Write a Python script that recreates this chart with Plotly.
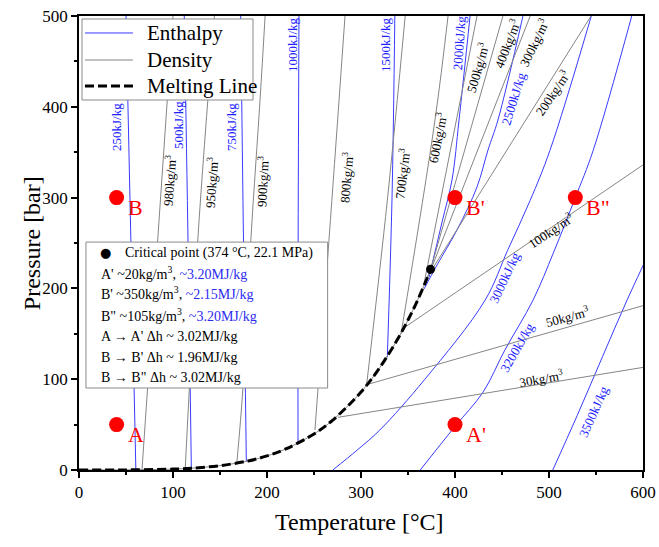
import plotly.graph_objects as go

# ---------------- data ----------------
# Saturation curve, drawn as "Melting Line"
SAT_T = [0, 50, 100, 120, 150, 180, 200, 220, 250, 270, 300, 320, 340, 350, 360, 370, 374]
SAT_P = [0.006, 0.12, 1.0, 2.0, 4.8, 10.0, 15.5, 23.2, 39.7, 55.0, 85.8, 112.8, 146.0, 165.2, 186.5, 210.4, 220.6]

# Enthalpy isolines (kJ/kg): temperature [°C] / pressure [bar]
H250_T = [50, 60.5];                 H250_P = [500, 0]
H500_T = [112, 116, 119.5];          H500_P = [500, 250, 2]
H750_T = [172, 175, 178];            H750_P = [500, 250, 9.5]
H1000_T = [234, 233, 233];           H1000_P = [500, 200, 29]
H1500_T = [336, 333, 328];           H1500_P = [500, 300, 124]
H2000_T = [416, 404.3, 396.8, 386.2, 372.3]
H2000_P = [500, 385.5, 319.4, 273, 212]
H2500_T = [472.3, 445.7, 435.1, 423.4, 402.1, 380.9, 367]
H2500_P = [500, 385.5, 352.4, 311.7, 264.3, 225.8, 199.3]
H3000_T = [270, 296, 320, 368, 432, 456, 480, 501, 545]
H3000_P = [0, 22, 44, 100, 187, 242, 297, 352, 500]
H3200_T = [363, 400, 430, 453, 483, 505, 528, 547, 588]
H3200_P = [0, 48, 86, 132, 187, 240, 300, 352, 500]
H3500_T = [504, 530, 557, 583, 610]
H3500_P = [0, 60, 125, 187, 247]

# Density isolines (kg/m3)
D980_T = [100, 67];                  D980_P = [500, 0]
D950_T = [144, 126.6, 113];          D950_P = [500, 257, 1.5]
D900_T = [198, 192.6, 183, 174.5, 168]
D900_P = [500, 407.5, 256.6, 91.4, 8.8]
D800_T = [283, 269, 251];            D800_P = [500, 297, 44]
D700_T = [347, 328, 306];            D700_P = [500, 297, 94]
D600_T = [392.6, 378.7, 342.6];      D600_P = [500, 385.5, 150]
D500_T = [423.4, 367];               D500_P = [500, 205]
D400_T = [451, 372.3];               D400_P = [500, 214.5]
D300_T = [480, 374.5];               D300_P = [500, 221]
D200_T = [544.7, 369];               D200_P = [500, 210]
D100_T = [347, 600];                 D100_P = [157.5, 336]
D50_T = [306, 600];                  D50_P = [94, 181]
D30_T = [275.5, 600];                D30_P = [58, 113]

# Isoline labels: text, position (T, P), text angle
H_LABELS = ["250kJ/kg", "500kJ/kg", "750kJ/kg", "1000kJ/kg", "1500kJ/kg", "2000kJ/kg",
            "2500kJ/kg", "3000kJ/kg", "3200kJ/kg", "3500kJ/kg"]
H_LAB_T = [40.4, 106.4, 162.8, 226.6, 325.5, 404.3, 462.8, 453.2, 467, 547.9]
H_LAB_P = [377.8, 380, 377.8, 468, 469, 470, 408.6, 211.5, 135.5, 63.9]
H_LAB_ANG = [-90, -90, -90, -90, -90, -86, -73, -65, -60, -66]

D_LABELS = ["980", "950", "900", "800", "700", "600", "500", "400", "300", "200", "100", "50", "30"]
D_LAB_T = [95.7, 140.4, 194.7, 284, 343.6, 380.9, 423.4, 455.3, 484, 503.2, 502.1, 520.2, 491.5]
D_LAB_P = [319.4, 317.2, 317.2, 322.7, 327, 365.6, 442.7, 470.3, 471.4, 415.2, 264.3, 169.6, 101.3]
D_LAB_ANG = [-86, -86, -87, -85, -83, -79, -74, -69, -64, -56, -34, -15, -10]

# State points
PT_NAMES = ["A", "A'", "B", "B'", 'B"']
PT_T = [40, 400, 40, 400, 528]
PT_P = [50, 50, 300, 300, 300]
CRIT_T = [374]
CRIT_P = [221]

# Legend entries
LEG_NAMES = ["Enthalpy", "Density", "Melting Line"]

# Info box lines
INFO_LINES = [
    "A' ~20kg/m<sup>3</sup>, <span style='color:#2b2bf0'>~3.20MJ/kg</span>",
    "B' ~350kg/m<sup>3</sup>, <span style='color:#2b2bf0'>~2.15MJ/kg</span>",
    "B\" ~105kg/m<sup>3</sup>, <span style='color:#2b2bf0'>~3.20MJ/kg</span>",
    "A \u2192 A' \u0394h ~ 3.02MJ/kg",
    "B \u2192 B' \u0394h ~ 1.96MJ/kg",
    "B \u2192 B\" \u0394h ~ 3.02MJ/kg",
]

# ---------------- figure ----------------
FONT = "Liberation Serif, Times New Roman, serif"
BLUE = "#3a3aff"
GRAY = "#858585"

fig = go.Figure()

enthalpy = [(H250_T, H250_P), (H500_T, H500_P), (H750_T, H750_P), (H1000_T, H1000_P),
            (H1500_T, H1500_P), (H2000_T, H2000_P), (H2500_T, H2500_P), (H3000_T, H3000_P),
            (H3200_T, H3200_P), (H3500_T, H3500_P)]
density = [(D980_T, D980_P), (D950_T, D950_P), (D900_T, D900_P), (D800_T, D800_P),
           (D700_T, D700_P), (D600_T, D600_P), (D500_T, D500_P), (D400_T, D400_P),
           (D300_T, D300_P), (D200_T, D200_P), (D100_T, D100_P), (D50_T, D50_P), (D30_T, D30_P)]

for i, (t, p) in enumerate(enthalpy):
    fig.add_trace(go.Scatter(x=t, y=p, mode="lines", line=dict(color=BLUE, width=1),
                             name="Enthalpy", showlegend=False,
                             line_shape="spline", hoverinfo="skip"))
for i, (t, p) in enumerate(density):
    fig.add_trace(go.Scatter(x=t, y=p, mode="lines", line=dict(color=GRAY, width=1),
                             name="Density", showlegend=False,
                             line_shape="spline", hoverinfo="skip"))

# thin gray saturation line under the dashes
fig.add_trace(go.Scatter(x=SAT_T, y=SAT_P, mode="lines", line=dict(color=GRAY, width=1),
                         showlegend=False, line_shape="spline", hoverinfo="skip"))
fig.add_trace(go.Scatter(x=SAT_T, y=SAT_P, mode="lines",
                         line=dict(color="black", width=3, dash="9px,4px"),
                         name="Melting Line", showlegend=False, line_shape="spline",
                         hoverinfo="skip"))

# state points
fig.add_trace(go.Scatter(x=PT_T, y=PT_P, mode="markers",
                         marker=dict(color="#ff0000", size=15, line=dict(width=0)),
                         showlegend=False, hoverinfo="skip"))
fig.add_trace(go.Scatter(x=CRIT_T, y=CRIT_P, mode="markers",
                         marker=dict(color="black", size=9), showlegend=False, hoverinfo="skip"))

ann = []
for name, t, p in zip(PT_NAMES, PT_T, PT_P):
    ann.append(dict(x=t, y=p, text=name, showarrow=False, xanchor="left", yanchor="middle",
                    xshift=9, yshift=-10, font=dict(family=FONT, size=22, color="#ff0000")))
for txt, t, p, a in zip(H_LABELS, H_LAB_T, H_LAB_P, H_LAB_ANG):
    ann.append(dict(x=t, y=p, text=txt, showarrow=False, textangle=a,
                    font=dict(family=FONT, size=13, color="#2020ff")))
for txt, t, p, a in zip(D_LABELS, D_LAB_T, D_LAB_P, D_LAB_ANG):
    ann.append(dict(x=t, y=p, text=txt + "kg/m<sup>3</sup>", showarrow=False, textangle=a,
                    font=dict(family=FONT, size=13, color="black")))

# info box
INFO_Y = [217, 195, 170.7, 146.5, 124.4, 102.4]
ann.append(dict(x=27.7, y=239, text="\u25cf", showarrow=False, xanchor="center", yanchor="middle",
                font=dict(family="DejaVu Sans", size=13, color="black")))
ann.append(dict(x=46.8, y=239, text="Critical point (374 \u00b0C, 22.1 MPa)", showarrow=False,
                xanchor="left", yanchor="middle", font=dict(family=FONT, size=14, color="black")))
for txt, y in zip(INFO_LINES, INFO_Y):
    ann.append(dict(x=21.3, y=y, text=txt, showarrow=False, xanchor="left", yanchor="middle",
                    font=dict(family=FONT, size=14, color="black")))

# axis titles
ann.append(dict(x=-0.083, y=0.5, xref="paper", yref="paper", text="Pressure [bar]",
                showarrow=False, textangle=-90, xanchor="center", yanchor="middle",
                font=dict(family=FONT, size=24, color="black")))
ann.append(dict(x=0.498, y=-0.114, xref="paper", yref="paper", text="Temperature [\u00b0C]",
                showarrow=False, xanchor="center", yanchor="middle",
                font=dict(family=FONT, size=24, color="black")))

fig.add_shape(type="rect", x0=7.4, x1=264.5, y0=90.3, y1=251, xref="x", yref="y",
              line=dict(color="#8a8a8a", width=1), fillcolor="white", layer="above")

# custom legend (box, line samples, texts) in paper coordinates
LEG_Y = [0.9626, 0.9031, 0.8458]
LEG_STYLE = [dict(color=BLUE, width=1), dict(color=GRAY, width=1),
             dict(color="black", width=3, dash="9px,4px")]
fig.add_shape(type="rect", x0=0.0053, x1=0.3085, y0=0.815, y1=0.9934, xref="paper", yref="paper",
              line=dict(color="#8a8a8a", width=1), fillcolor="white", layer="above")
for nm, ly, st in zip(LEG_NAMES, LEG_Y, LEG_STYLE):
    fig.add_shape(type="line", x0=0.0106, x1=0.0957, y0=ly, y1=ly, xref="paper", yref="paper",
                  line=st, layer="above")
    ann.append(dict(x=0.117, y=ly, xref="paper", yref="paper", text=nm, showarrow=False,
                    xanchor="left", yanchor="middle",
                    font=dict(family=FONT, size=21, color="black")))

axis_common = dict(showline=True, linecolor="black", linewidth=1.5, mirror=True,
                   ticks="outside", ticklen=6, tickwidth=1.5, tickcolor="black",
                   showgrid=False, zeroline=False, automargin=False,
                   tickfont=dict(family=FONT, size=17, color="black"))

fig.update_layout(
    width=659, height=547,
    margin=dict(l=79, r=16, t=16, b=77),
    plot_bgcolor="white", paper_bgcolor="white",
    annotations=ann,
    xaxis=dict(range=[0, 600], dtick=100, tick0=0,
               minor=dict(dtick=50, ticks="outside", ticklen=3, tickwidth=1.5, tickcolor="black"),
               **axis_common),
    yaxis=dict(range=[0, 500], dtick=100, tick0=0,
               minor=dict(dtick=50, ticks="outside", ticklen=3, tickwidth=1.5, tickcolor="black"),
               **axis_common),
    showlegend=False,
)

fig.write_html("out.html")
